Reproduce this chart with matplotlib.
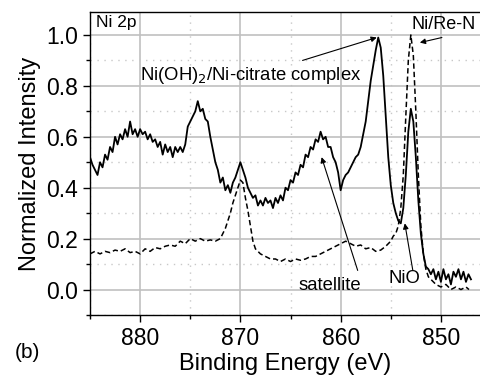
import numpy as np
import matplotlib
matplotlib.use('Agg')
import matplotlib.pyplot as plt
from matplotlib.ticker import MultipleLocator

plt.rcParams['font.family'] = ['Liberation Sans', 'DejaVu Sans']

# Ni(OH)2 / Ni-citrate 样品 (实线), 885 -> 847 eV, 每 0.25 eV 一个点
solid_y = [
    0.52, 0.49, 0.47, 0.45,   # 885
    0.50, 0.48, 0.53, 0.51,   # 884
    0.56, 0.54, 0.60, 0.57,   # 883
    0.61, 0.59, 0.63, 0.60,   # 882
    0.66, 0.61, 0.63, 0.60,   # 881
    0.63, 0.61, 0.62, 0.59,   # 880
    0.61, 0.58, 0.59, 0.56,   # 879
    0.58, 0.53, 0.57, 0.54,   # 878
    0.56, 0.52, 0.56, 0.54,   # 877
    0.56, 0.54, 0.57, 0.64,   # 876
    0.66, 0.68, 0.70, 0.74,   # 875
    0.70, 0.71, 0.67, 0.66,   # 874
    0.60, 0.55, 0.50, 0.47,   # 873
    0.42, 0.44, 0.39, 0.41,   # 872
    0.38, 0.42, 0.44, 0.47,   # 871
    0.50, 0.47, 0.44, 0.40,   # 870
    0.38, 0.36, 0.37, 0.33,   # 869
    0.35, 0.33, 0.36, 0.34,   # 868
    0.35, 0.32, 0.36, 0.34,   # 867
    0.37, 0.35, 0.40, 0.39,   # 866
    0.43, 0.42, 0.46, 0.45,   # 865
    0.49, 0.48, 0.53, 0.52,   # 864
    0.56, 0.55, 0.59, 0.58,   # 863
    0.62, 0.59, 0.60, 0.56,   # 862
    0.56, 0.52, 0.50, 0.46,   # 861
    0.39, 0.43, 0.45, 0.46,   # 860
    0.48, 0.50, 0.52, 0.53,   # 859
    0.56, 0.61, 0.66, 0.74,   # 858
    0.82, 0.88, 0.94, 0.99,   # 857
    0.95, 0.84, 0.68, 0.52,   # 856
    0.41, 0.34, 0.30, 0.27,   # 855
    0.26, 0.32, 0.45, 0.62,   # 854
    0.71, 0.66, 0.52, 0.35,   # 853
    0.22, 0.14, 0.09, 0.08,   # 852
    0.06, 0.08, 0.04, 0.07,   # 851
    0.03, 0.08, 0.04, 0.06,   # 850
    0.02, 0.07, 0.05, 0.08,   # 849
    0.04, 0.07, 0.03, 0.06,   # 848
    0.04,                     # 847
]
solid_x = 885 - 0.25 * np.arange(len(solid_y))

# Ni/Re-N 样品 (虚线)
dash_x = [885.0, 884.5, 884.0, 883.5, 883.0, 882.5, 882.0, 881.5, 881.0, 880.5,
          880.0, 879.5, 879.0, 878.5, 878.0, 877.5, 877.0, 876.5, 876.0, 875.5,
          875.0, 874.5, 874.0, 873.5, 873.0, 872.5, 872.0, 871.75, 871.5, 871.25,
          871.0, 870.75, 870.5, 870.25, 870.0, 869.75, 869.5, 869.25, 869.0, 868.75,
          868.5, 868.0, 867.5, 867.0, 866.5, 866.0, 865.5, 865.0, 864.5, 864.0,
          863.5, 863.0, 862.5, 862.0, 861.5, 861.0, 860.5, 860.0, 859.5, 859.0,
          858.5, 858.0, 857.5, 857.0, 856.5, 856.0, 855.5, 855.0, 854.75, 854.5,
          854.25, 854.0, 853.75, 853.5, 853.25, 853.0, 852.75, 852.5, 852.25, 852.0,
          851.75, 851.5, 851.25, 851.0, 850.5, 850.0, 849.5, 849.0, 848.5, 848.0,
          847.5, 847.2]
dash_y = [0.14, 0.15, 0.14, 0.15, 0.145, 0.155, 0.15, 0.16, 0.145, 0.15,
          0.14, 0.16, 0.15, 0.165, 0.16, 0.17, 0.175, 0.17, 0.19, 0.18,
          0.20, 0.19, 0.20, 0.19, 0.195, 0.19, 0.20, 0.22, 0.24, 0.27,
          0.30, 0.34, 0.37, 0.40, 0.43, 0.42, 0.36, 0.31, 0.25, 0.19,
          0.16, 0.14, 0.13, 0.12, 0.12, 0.11, 0.12, 0.11, 0.12, 0.115,
          0.12, 0.13, 0.13, 0.14, 0.15, 0.16, 0.17, 0.18, 0.19, 0.18,
          0.17, 0.175, 0.16, 0.165, 0.15, 0.155, 0.17, 0.19, 0.21, 0.22,
          0.25, 0.32, 0.45, 0.68, 0.90, 1.00, 0.92, 0.70, 0.45, 0.25,
          0.14, 0.08, 0.05, 0.04, 0.02, 0.01, 0.02, 0.0, 0.01, 0.0,
          0.01, 0.0]

fig = plt.figure(figsize=(4.8, 3.77), dpi=100)
ax = fig.add_axes([0.1875, 0.1645, 0.8125, 0.8035])

ax.plot(solid_x, solid_y, color='k', lw=1.3)
ax.plot(dash_x, dash_y, color='k', lw=1.1, ls=(0, (3.5, 2)))

ax.set_xlim(885, 846.1)
ax.set_ylim(-0.1, 1.09)
ax.xaxis.set_major_locator(MultipleLocator(10))
ax.xaxis.set_minor_locator(MultipleLocator(5))
ax.yaxis.set_major_locator(MultipleLocator(0.2))
ax.yaxis.set_minor_locator(MultipleLocator(0.1))
ax.set_yticks(np.arange(0, 1.01, 0.2))
ax.yaxis.set_major_formatter(plt.FuncFormatter(lambda v, p: '%.1f' % v))

ax.grid(which='major', color='#c0c0c0', lw=1.2, ls='-')
ax.grid(which='minor', color='#c8c8c8', lw=1.0, ls=(0, (1, 4)))
ax.set_axisbelow(True)

ax.spines['right'].set_visible(False)
for s in ['left', 'bottom', 'top']:
    ax.spines[s].set_linewidth(1.0)
ax.tick_params(which='major', direction='out', length=5, width=1, labelsize=16.5,
               top=False, right=False)
ax.tick_params(which='minor', direction='out', length=3, width=1, top=False, right=False)

ax.set_xlabel('Binding Energy (eV)', fontsize=17, labelpad=2)
ax.set_ylabel('Normalized Intensity', fontsize=17, labelpad=4)

arr = dict(arrowstyle='-|>', lw=0.8, color='k', mutation_scale=8, shrinkA=0, shrinkB=0)

ax.text(884.4, 1.05, 'Ni 2p', fontsize=12.5, va='center', ha='left')
ax.text(880.0, 0.84, 'Ni(OH)$_2$/Ni-citrate complex', fontsize=13.3, va='center', ha='left')
ax.annotate('', xy=(856.4, 0.99), xytext=(863.8, 0.90), arrowprops=arr)
ax.text(852.95, 1.04, 'Ni/Re-N', fontsize=13, va='center', ha='left')
ax.annotate('', xy=(852.1, 0.97), xytext=(849.9, 0.99), arrowprops=arr)
ax.text(861.1, 0.016, 'satellite', fontsize=13.3, va='center', ha='center')
ax.annotate('', xy=(861.9, 0.52), xytext=(858.3, 0.075), arrowprops=arr)
ax.text(853.6, 0.043, 'NiO', fontsize=13.3, va='center', ha='center')
ax.annotate('', xy=(853.6, 0.26), xytext=(852.8, 0.075), arrowprops=arr)

fig.text(0.058, 0.064, '(b)', fontsize=15, va='center', ha='center')

fig.savefig('out.png', dpi=100)
